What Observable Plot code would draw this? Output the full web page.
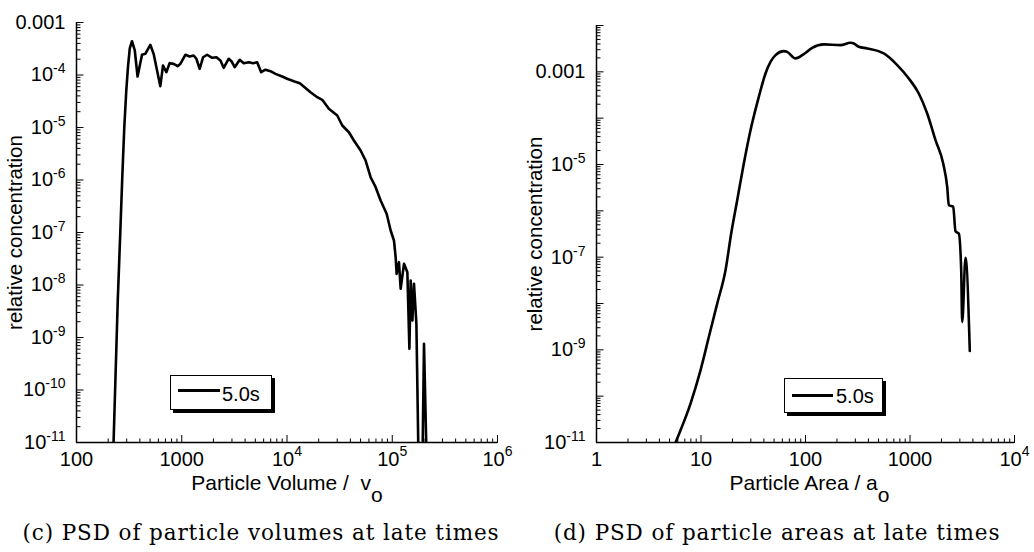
<!DOCTYPE html>
<html>
<head>
<meta charset="utf-8">
<script src="https://cdn.jsdelivr.net/npm/d3@7"></script>
<script src="https://cdn.jsdelivr.net/npm/@observablehq/plot@0.6"></script>
<style>
  body { margin: 0; background: #fff; }
  #wrap { position: relative; width: 1034px; height: 552px; overflow: hidden; font-family: "Liberation Sans", Arial, sans-serif; }
  .chart { position: absolute; top: 0; }
  .legend { position: absolute; border: 1.5px solid #000; background: #fff; box-shadow: 3px 3px 0 #000; box-sizing: border-box; }
  .legend .ln { position: absolute; height: 3px; background: #000; }
  .legend .lt { position: absolute; font-size: 20px; line-height: 20px; color: #000; }
  .caption { position: absolute; font-family: "DejaVu Serif", serif; font-size: 21.5px; letter-spacing: 0.9px; line-height: 24px; white-space: nowrap; transform: translateX(-50%); color: #000; }
</style>
</head>
<body>
<div id="wrap">
  <div id="c1" class="chart" style="left:0px"></div>
  <div id="c2" class="chart" style="left:517px"></div>
  <div class="legend" style="left:170px;top:375px;width:102px;height:35px">
    <div class="ln" style="left:6.5px;top:13px;width:42px"></div>
    <div class="lt" style="left:51px;top:7.5px">5.0s</div>
  </div>
  <div class="legend" style="left:784px;top:378px;width:99px;height:35px">
    <div class="ln" style="left:6.5px;top:15px;width:41px"></div>
    <div class="lt" style="left:51px;top:7px">5.0s</div>
  </div>
  <div class="caption" style="left:261px;top:521px">(c) PSD of particle volumes at late times</div>
  <div class="caption" style="left:777px;top:521px">(d) PSD of particle areas at late times</div>
</div>
<script>
// ---- Data: panel (c) particle volume PSD at 5.0 s ----
const volSize = [209.3, 225, 246.6, 260.4, 272.2, 284.4, 297.2, 308.3, 320.8, 336.5, 357.9, 380.4, 419.1, 450.6, 502.8, 540.3, 625.8, 663.9, 713.7, 767.3, 837.4, 914, 969.8, 1082, 1189, 1298, 1377, 1480, 1595, 1741, 1943, 2135, 2330, 2504, 2794, 2964, 3186, 3555, 3882, 4331, 4769, 5206, 5682, 6244, 6966, 7775, 9001, 10040, 11610, 13240, 16740, 19380, 21620, 24980, 30030, 33510, 38730, 43210, 50040, 55840, 62300, 69530, 77560, 88460, 96560, 103800, 107700, 110100, 115800, 120200, 129300, 139200, 145500, 149700, 155400, 160900, 169600, 186300, 200300, 227000];
const volConc = [5.6e-14, 1e-11, 5.07e-9, 9.57e-8, 1.12e-6, 1e-5, 5.07e-5, 1.41e-4, 3.2e-4, 4.4e-4, 2.93e-4, 9.36e-5, 2.43e-4, 2.53e-4, 3.76e-4, 2.53e-4, 6.12e-5, 1.52e-4, 1.13e-4, 1.68e-4, 1.63e-4, 1.47e-4, 1.63e-4, 2.43e-4, 2.25e-4, 2.35e-4, 2.04e-4, 1.31e-4, 2.18e-4, 2.43e-4, 2.13e-4, 2.18e-4, 1.89e-4, 1.37e-4, 2.04e-4, 1.83e-4, 1.41e-4, 1.95e-4, 1.68e-4, 1.75e-4, 1.68e-4, 1.75e-4, 1.13e-4, 1.26e-4, 1.18e-4, 1.05e-4, 9.36e-5, 8.47e-5, 7.62e-5, 6.98e-5, 4.70e-5, 3.78e-5, 3.37e-5, 2.27e-5, 1.69e-5, 1.09e-5, 8.13e-6, 5.65e-6, 3.65e-6, 2.35e-6, 1.13e-6, 7.29e-7, 4.07e-7, 2.27e-7, 1.09e-7, 7.05e-8, 3.39e-8, 1.63e-8, 2.72e-8, 8.47e-9, 2.53e-8, 1.75e-8, 6.09e-10, 1.22e-8, 2.11e-9, 1.05e-8, 1.82e-9, 1e-14, 7.58e-10, 1e-14];

// ---- Data: panel (d) particle area PSD at 5.0 s ----
const areaSize = [4.89, 5.70, 7.94, 9.89, 11.88, 14.29, 17.16, 19.45, 22.20, 25.33, 29.31, 35.74, 41.42, 46.25, 51.63, 62.0, 66.8, 80.2, 96.3, 115.9, 149.7, 216.2, 269.5, 289.9, 323.6, 389.5, 561.5, 754.4, 973.9, 1214, 1461, 1754, 2078, 2270, 2352, 2591, 2725, 2931, 3090, 3159, 3398, 3735];
const areaConc = [4.1e-12, 9.9e-12, 6.89e-11, 3.61e-10, 1.89e-9, 9.95e-9, 5.21e-8, 3.24e-7, 1.69e-6, 8.87e-6, 4.68e-5, 2.88e-4, 9.23e-4, 1.64e-3, 2.30e-3, 2.80e-3, 2.70e-3, 1.95e-3, 2.41e-3, 3.30e-3, 3.91e-3, 3.78e-3, 4.23e-3, 4.10e-3, 3.47e-3, 3.20e-3, 2.49e-3, 1.40e-3, 7.20e-4, 3.41e-4, 1.26e-4, 3.35e-5, 1.05e-5, 3.28e-6, 1.32e-6, 1.23e-6, 3.62e-7, 3.24e-7, 5.21e-8, 3.98e-9, 9.7e-8, 9.42e-10];

// ---- Tick values and labels ----
const volXTicks = [100, 1000, 1e4, 1e5, 1e6];
const volXLabels = ["100", "1000", "10^4", "10^5", "10^6"];
const volYTicks = [1e-3, 1e-4, 1e-5, 1e-6, 1e-7, 1e-8, 1e-9, 1e-10, 1e-11];
const volYLabels = ["0.001", "10^-4", "10^-5", "10^-6", "10^-7", "10^-8", "10^-9", "10^-10", "10^-11"];
const areaXTicks = [1, 10, 100, 1000, 1e4];
const areaXLabels = ["1", "10", "100", "1000", "10^4"];
const areaYMajor = [1e-2, 1e-3, 1e-4, 1e-5, 1e-6, 1e-7, 1e-8, 1e-9, 1e-10, 1e-11];
const areaYTicks = [1e-3, 1e-5, 1e-7, 1e-9, 1e-11];
const areaYLabels = ["0.001", "10^-5", "10^-7", "10^-9", "10^-11"];

const seriesName = "5.0s";
const yTitle = "relative concentration";

function minorTicks(lo, hi) {
  const out = [];
  for (let e = lo; e < hi; e++) for (let k = 2; k <= 9; k++) out.push(k * Math.pow(10, e));
  return out;
}

function richText(svg) {
  d3.select(svg).selectAll("g[aria-label='x-axis tick label'] text, g[aria-label='y-axis tick label'] text").each(function () {
    const t = this.textContent;
    if (!t.includes("^")) return;
    const isY = this.parentNode.getAttribute("aria-label").startsWith("y");
    const [base, exp] = t.split("^");
    const sel = d3.select(this);
    sel.text(null);
    sel.append("tspan").text(base);
    sel.append("tspan").attr("dy", isY ? -8 : -10).attr("font-size", 14).text(exp);
  });
  d3.select(svg).selectAll("text").each(function () {
    const t = this.textContent;
    if (!t.includes("_")) return;
    const [base, sub] = t.split("_");
    const sel = d3.select(this);
    sel.text(null);
    sel.append("tspan").text(base);
    sel.append("tspan").attr("dy", 12).text(sub);
  });
}

function chart(el, o) {
  const W = 517, H = 510, mr = 20, mb = 68;
  const frameW = W - o.marginLeft - mr;
  const frameH = H - o.marginTop - mb;
  const data = o.xs.map((x, i) => ({x, y: o.ys[i]}));
  const xMinor = minorTicks(Math.round(Math.log10(o.xDomain[0])), Math.round(Math.log10(o.xDomain[1])));
  const yMinor = minorTicks(Math.round(Math.log10(o.yDomain[0])), Math.round(Math.log10(o.yDomain[1])));
  const blank = () => "";
  const svg = Plot.plot({
    width: W, height: H,
    marginLeft: o.marginLeft, marginRight: mr, marginTop: o.marginTop, marginBottom: mb,
    style: {fontFamily: "'Liberation Sans', Arial, sans-serif", fontSize: "20px", color: "#000", background: "transparent", overflow: "visible"},
    x: {type: "log", domain: o.xDomain},
    y: {type: "log", domain: o.yDomain},
    marks: [
      // inward-pointing ticks: top/right-anchored axes shifted onto the bottom/left edges
      Plot.axisX({anchor: "top", dy: frameH, ticks: xMinor, tickSize: 4.5, tickFormat: blank, label: null}),
      Plot.axisX({anchor: "top", dy: frameH, ticks: o.xMajor, tickSize: 8, tickFormat: blank, label: null}),
      Plot.axisY({anchor: "right", dx: -frameW, ticks: yMinor, tickSize: 3.5, tickFormat: blank, label: null}),
      Plot.axisY({anchor: "right", dx: -frameW, ticks: o.yMajor, tickSize: 6.5, tickFormat: blank, label: null}),
      // tick labels
      Plot.axisX({ticks: o.xMajor, tickSize: 0, tickPadding: 9.5, tickFormat: d => o.xLabels[o.xMajor.indexOf(d)], label: null, fontSize: 20}),
      Plot.axisY({ticks: o.yTicks, tickSize: 0, tickPadding: 11, tickFormat: d => o.yLabels[o.yTicks.indexOf(d)], label: null, fontSize: 20}),
      // axis lines
      Plot.ruleY([o.yDomain[0]], {strokeWidth: 1.5}),
      Plot.ruleX([o.xDomain[0]], {strokeWidth: 1.5}),
      Plot.line(data, {x: "x", y: "y", stroke: "#000", strokeWidth: 2.6, clip: true, strokeLinejoin: "round", curve: o.curve}),
      Plot.text([o.xTitle], {frameAnchor: "bottom", textAnchor: "middle", dx: o.titleDx, dy: 47.5, lineAnchor: "bottom", fontSize: 21}),
      Plot.text([yTitle], {frameAnchor: "left", textAnchor: "middle", rotate: -90, dx: -61, fontSize: 20.5})
    ]
  });
  d3.select(svg).selectAll("text").attr("xml:space", "preserve").style("white-space", "pre");
  richText(svg);
  document.getElementById(el).appendChild(svg);
}

chart("c1", {
  xs: volSize, ys: volConc,
  xDomain: [100, 1e6], yDomain: [1e-11, 1e-3],
  xMajor: volXTicks, xLabels: volXLabels,
  yMajor: volYTicks, yTicks: volYTicks, yLabels: volYLabels,
  marginLeft: 76, marginTop: 22, titleDx: 0,
  xTitle: "Particle Volume /\u00a0 v_o", curve: "linear"
});

chart("c2", {
  xs: areaSize, ys: areaConc,
  xDomain: [1, 1e4], yDomain: [1e-11, 1e-2],
  xMajor: areaXTicks, xLabels: areaXLabels,
  yMajor: areaYMajor, yTicks: areaYTicks, yLabels: areaYLabels,
  marginLeft: 79, marginTop: 25, titleDx: 4,
  xTitle: "Particle Area / a_o", curve: "monotone-x"
});
</script>
</body>
</html>
